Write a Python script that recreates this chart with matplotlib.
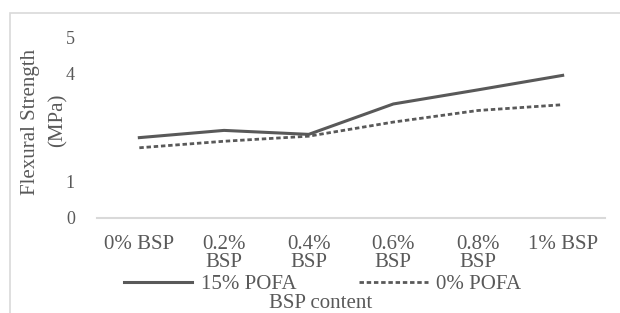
import matplotlib.pyplot as plt
from matplotlib.patches import Rectangle

categories = ['0% BSP', '0.2%\nBSP', '0.4%\nBSP', '0.6%\nBSP', '0.8%\nBSP', '1% BSP']
pofa_15 = [2.22, 2.42, 2.31, 3.15, 3.54, 3.94]
pofa_0 = [1.94, 2.12, 2.26, 2.65, 2.97, 3.13]
yticks = [0, 1, 2, 3, 4, 5]

plt.rcParams['font.family'] = ['Liberation Serif', 'DejaVu Serif']
grey = '#595959'

fig = plt.figure(figsize=(6.2, 3.13), dpi=100)
fig.patches.append(Rectangle((10 / 620, -0.1), 1.1, 1 - 13 / 313 + 0.1,
                             transform=fig.transFigure, fill=False,
                             edgecolor='#d9d9d9', lw=1.2))
ax = fig.add_axes([97 / 620, 1 - 218 / 313, 508 / 620, 181 / 313])

x = range(len(categories))
ax.plot(x, pofa_15, color=grey, lw=2.2, label='15% POFA')
ax.plot(x, pofa_0, color=grey, lw=2.0, ls=(0, (1.6, 1.0)), label='0% POFA')

ax.set_xlim(-0.5, len(categories) - 0.5)
ax.set_ylim(0, 5)
ax.set_yticks(yticks)
ax.set_xticks(list(x))
ax.set_xticklabels(categories, linespacing=0.95)
ax.tick_params(length=0, colors=grey)
ax.tick_params(axis='x', labelsize=15, pad=12)
ax.tick_params(axis='y', labelsize=13, pad=16)
for s in ['top', 'right', 'left']:
    ax.spines[s].set_visible(False)
ax.spines['bottom'].set_color('#d9d9d9')
ax.spines['bottom'].set_linewidth(1.5)

# y title in two lines, the second one sits over the 2 and 3 labels
fig.text(31 / 620, 1 - 122 / 313, 'Flexural Strength', rotation=90,
         ha='center', va='center', fontsize=15, color=grey)
fig.text(58 / 620, 1 - 120 / 313, '(MPa)', rotation=90, ha='center',
         va='center', fontsize=15, color=grey, zorder=5,
         bbox=dict(facecolor='white', edgecolor='none', pad=7))

ax.set_xlabel('BSP content', fontsize=15, color=grey)
ax.xaxis.set_label_coords(0.44, -0.42)

fig.legend(loc='center', bbox_to_anchor=(0.52, 1 - 284 / 313), ncol=2,
           frameon=False, fontsize=15, handlelength=3.3, columnspacing=3.0,
           handletextpad=0.4, labelcolor=grey)

fig.savefig('out.png', dpi=100)
